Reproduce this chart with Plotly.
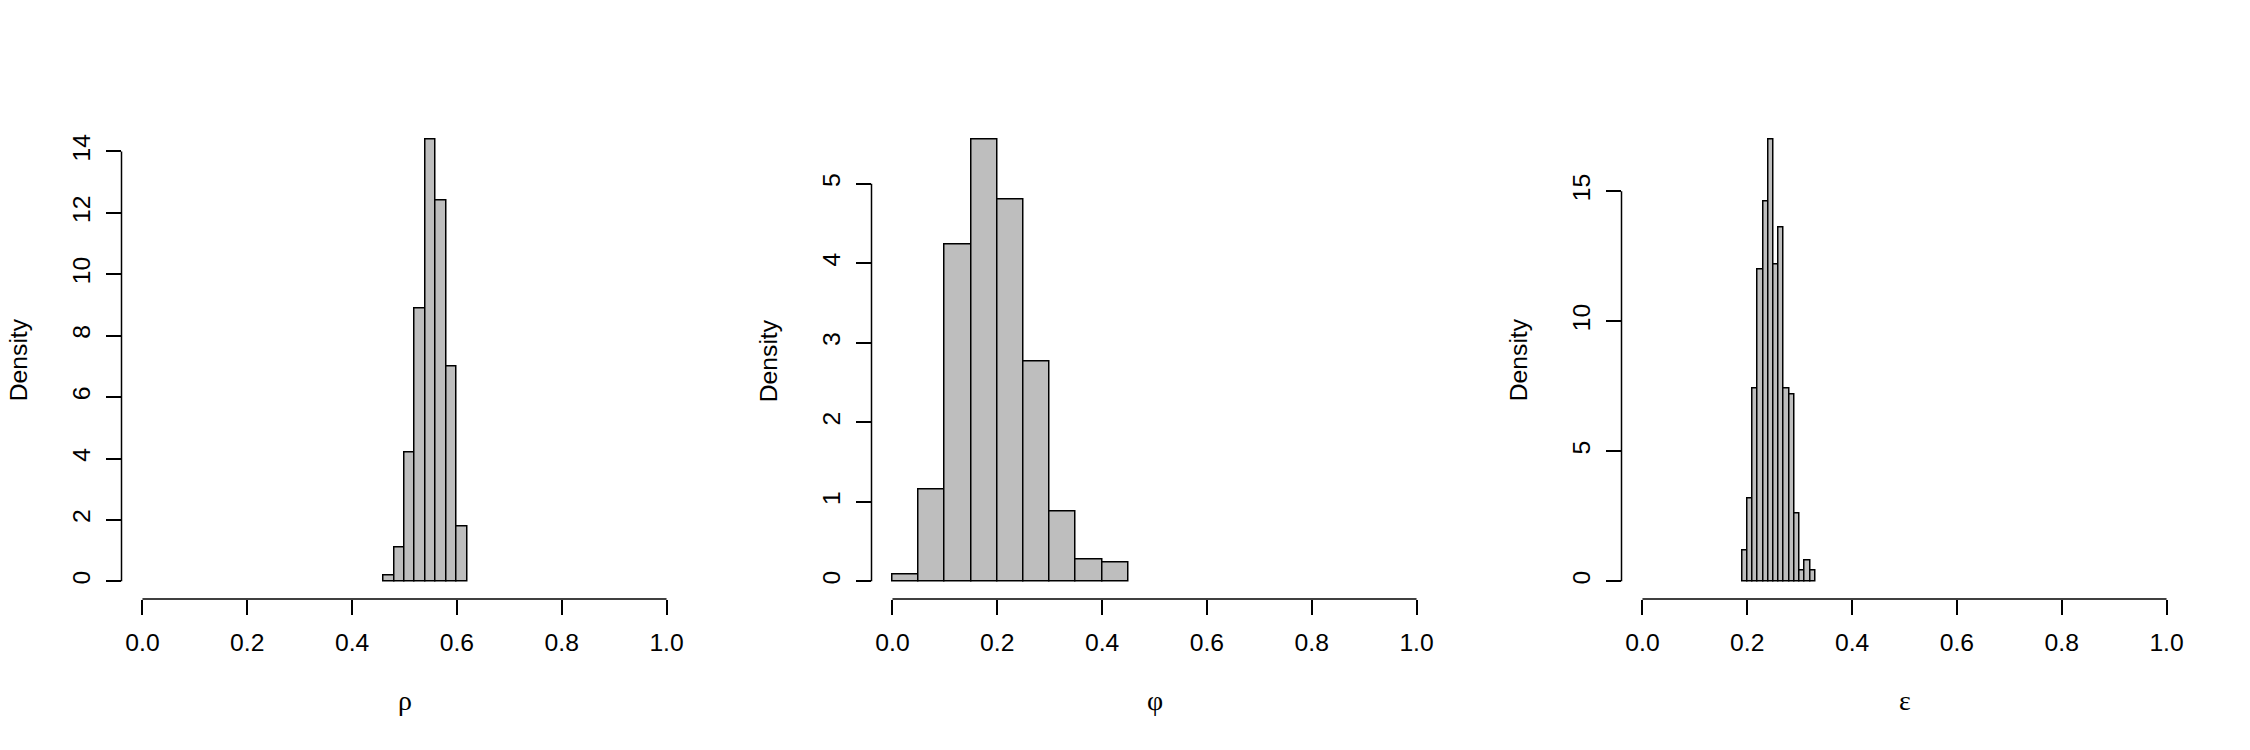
import plotly.graph_objects as go

# ---------------- data ----------------
rho_breaks = [0.46, 0.48, 0.50, 0.52, 0.54, 0.56, 0.58, 0.60, 0.62]
rho_density = [0.2, 1.1, 4.2, 8.9, 14.4, 12.4, 7.0, 1.8]

phi_breaks = [0.00, 0.05, 0.10, 0.15, 0.20, 0.25, 0.30, 0.35, 0.40, 0.45]
phi_density = [0.08, 1.16, 4.24, 5.56, 4.80, 2.76, 0.88, 0.28, 0.24]

eps_breaks = [0.19, 0.20, 0.21, 0.22, 0.23, 0.24, 0.25, 0.26, 0.27, 0.28,
              0.29, 0.30, 0.31, 0.32, 0.33]
eps_density = [1.2, 3.2, 7.4, 12.0, 14.6, 17.0, 12.2, 13.6, 7.4, 7.2,
               2.6, 0.4, 0.8, 0.4]

x_ticks = [0.0, 0.2, 0.4, 0.6, 0.8, 1.0]
x_ticklabels = ["0.0", "0.2", "0.4", "0.6", "0.8", "1.0"]
rho_yticks = [0, 2, 4, 6, 8, 10, 12, 14]
phi_yticks = [0, 1, 2, 3, 4, 5]
eps_yticks = [0, 5, 10, 15]

x_titles = ["ρ", "φ", "ε"]
y_title = "Density"

panels = [
    (rho_breaks, rho_density, rho_yticks),
    (phi_breaks, phi_density, phi_yticks),
    (eps_breaks, eps_density, eps_yticks),
]

# ---------------- layout constants ----------------
W, H = 2250, 750
COL = W / 3
LEFT, RIGHT = 121.5, 62.5
TOP, BOTTOM = 121.5, 151.0
FS = 24.7
GREEK_FS = 28
BAR_FILL = "#BEBEBE"
LW = 1.5
SANS = "Liberation Sans, Arial, sans-serif"
SERIF = "Liberation Serif, Times New Roman, serif"

fig = go.Figure()
shapes = []
annotations = []
layout = {}

for i, (breaks, dens, yt) in enumerate(panels):
    n = i + 1
    xa = "x" if n == 1 else f"x{n}"
    ya = "y" if n == 1 else f"y{n}"
    mids = [(breaks[k] + breaks[k + 1]) / 2 for k in range(len(dens))]
    widths = [breaks[k + 1] - breaks[k] for k in range(len(dens))]
    fig.add_trace(go.Bar(
        x=mids, y=dens, width=widths, xaxis=xa, yaxis=ya,
        marker=dict(color=BAR_FILL, line=dict(color="black", width=LW)),
        showlegend=False, hoverinfo="skip",
    ))
    ymax = max(dens)
    x0 = (i * COL + LEFT) / W
    x1 = ((i + 1) * COL - RIGHT) / W
    layout[f"xaxis{'' if n == 1 else n}"] = dict(
        domain=[x0, x1], range=[-0.04, 1.04], anchor=ya,
        tickmode="array", tickvals=x_ticks, ticktext=x_ticklabels,
        ticks="outside", ticklen=15, tickwidth=LW, tickcolor="black",
        showline=False, showgrid=False, zeroline=False,
        tickfont=dict(family=SANS, size=FS, color="black"),
        ticklabelstandoff=6,
    )
    layout[f"yaxis{'' if n == 1 else n}"] = dict(
        domain=[BOTTOM / H, 1 - TOP / H],
        range=[-0.04 * ymax, 1.04 * ymax], anchor=xa,
        tickmode="array", tickvals=yt, ticktext=[str(v) for v in yt],
        ticks="outside", ticklen=15, tickwidth=LW, tickcolor="black",
        tickangle=-90,
        showline=False, showgrid=False, zeroline=False,
        tickfont=dict(family=SANS, size=FS, color="black"),
        ticklabelstandoff=6,
    )
    # R-style axis lines spanning first to last tick
    shapes.append(dict(type="line", xref=xa, yref=f"{ya} domain",
                       x0=x_ticks[0], x1=x_ticks[-1], y0=0, y1=0,
                       line=dict(color="black", width=LW)))
    shapes.append(dict(type="line", xref=f"{xa} domain", yref=ya,
                       x0=0, x1=0, y0=yt[0], y1=yt[-1],
                       line=dict(color="black", width=LW)))
    # axis titles
    annotations.append(dict(text=y_title, xref=f"{xa} domain", yref=f"{ya} domain",
                            x=0, y=0.5, xshift=-103.5, textangle=-90,
                            showarrow=False, xanchor="center", yanchor="middle",
                            font=dict(family=SANS, size=FS, color="black")))
    annotations.append(dict(text=x_titles[i], xref=f"{xa} domain", yref=f"{ya} domain",
                            x=0.5, y=0, yshift=-101, showarrow=False,
                            xanchor="center", yanchor="middle",
                            font=dict(family=SERIF, size=GREEK_FS, color="black")))

fig.update_layout(
    width=W, height=H,
    margin=dict(l=0, r=0, t=0, b=0),
    paper_bgcolor="white", plot_bgcolor="white",
    bargap=0, shapes=shapes, annotations=annotations,
    **layout,
)

fig.write_html("out.html", config={"displayModeBar": False})
